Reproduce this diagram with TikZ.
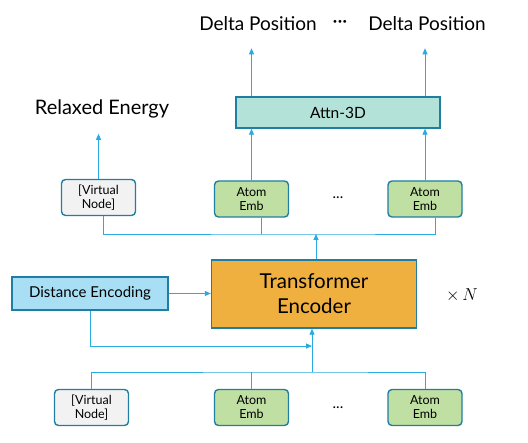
\documentclass[tikz,border=0pt]{standalone}
\usepackage{fontspec}
\setmainfont{Lato}
\usetikzlibrary{arrows.meta}
\definecolor{bord}{HTML}{1F7EA1}
\definecolor{conn}{HTML}{29ABE2}
\definecolor{vfill}{HTML}{F2F2F2}
\definecolor{afill}{HTML}{C0E0A3}
\definecolor{tfill}{HTML}{B3E3D8}
\definecolor{efill}{HTML}{F0B040}
\definecolor{dfill}{HTML}{A8DFF5}
\begin{document}
\begin{tikzpicture}[x=1pt,y=-1pt,
  box/.style={draw=bord,line width=1.4pt,inner sep=0pt,align=center},
  small/.style={box,rounded corners=4pt,minimum width=74pt,minimum height=36pt,font=\fontsize{12.5}{14}\selectfont},
  vnode/.style={small,fill=vfill},
  anode/.style={small,fill=afill},
  conline/.style={draw=conn,line width=0.8pt},
  arr/.style={conline,-{Triangle[length=6pt,width=5pt]}},
  lbl/.style={font=\fontsize{19}{21}\selectfont},
]
\useasboundingbox (0,0) rectangle (528,443);
% top
\node[lbl] (dp1) at (258,24) {Delta Position};
\node[lbl] (dots0) at (340,24) {···};
\node[lbl] (dp2) at (427,24) {Delta Position};
\node[box,fill=tfill,minimum width=204pt,minimum height=31pt,font=\fontsize{15.5}{17}\selectfont] (attn) at (338,112.5) {Attn-3D};
\node[font=\fontsize{20}{22}\selectfont] (re) at (102,109) {Relaxed Energy};
% upper row
\node[vnode] (uv) at (98.5,197.5) {[Virtual\\Node]};
\node[anode] (ua1) at (251.5,199) {Atom\\Emb};
\node[anode] (ua2) at (425,199) {Atom\\Emb};
\node[font=\fontsize{15}{15}\selectfont] (udots) at (338,198) {...};
% encoder
\node[box,fill=efill,minimum width=205pt,minimum height=68pt,font=\fontsize{20.5}{25}\selectfont] (enc) at (314,294) {Transformer\\Encoder};
\node[box,fill=dfill,minimum width=156pt,minimum height=33pt,font=\fontsize{15}{17}\selectfont] (de) at (90,293.5) {Distance Encoding};
\node[font=\fontsize{18}{20}\selectfont] (xn) at (462,295) {$\times\, N$};
% bottom row
\node[vnode] (bv) at (91.5,407.5) {[Virtual\\Node]};
\node[anode] (ba1) at (251.5,407.5) {Atom\\Emb};
\node[anode] (ba2) at (425,407.5) {Atom\\Emb};
\node[font=\fontsize{15}{15}\selectfont] (bdots) at (338,408) {...};
% coordinates
\coordinate (ubar) at (316,234);
\coordinate (bbar) at (312,372);
\coordinate (dj) at (312,346);
% top arrows
\draw[arr] (attn.north -| ua1) -- ++(0,-48);
\draw[arr] (attn.north -| ua2) -- ++(0,-48);
\draw[arr] (uv.north) -- ++(0,-45);
\draw[arr] (ua1.north) -- (attn.south -| ua1);
\draw[arr] (ua2.north) -- (attn.south -| ua2);
% upper bar
\draw[conline] ([xshift=5pt]uv.south) |- (ubar) -| ([xshift=10pt]ua2.south);
\draw[conline] ([xshift=10pt]ua1.south) -- ([xshift=10pt]ua1.south |- ubar);
\draw[arr] (enc.north -| ubar) -- (ubar);
% encoder inputs
\draw[arr] (de.east) -- (enc.west |- de.east);
\draw[arr] (de.south) |- (dj);
\draw[arr] (bbar) -- (enc.south -| bbar);
\draw[conline] (bv.north) |- (bbar) -| (ba2.north);
\draw[conline] (ba1.north) -- (ba1.north |- bbar);
\end{tikzpicture}
\end{document}
